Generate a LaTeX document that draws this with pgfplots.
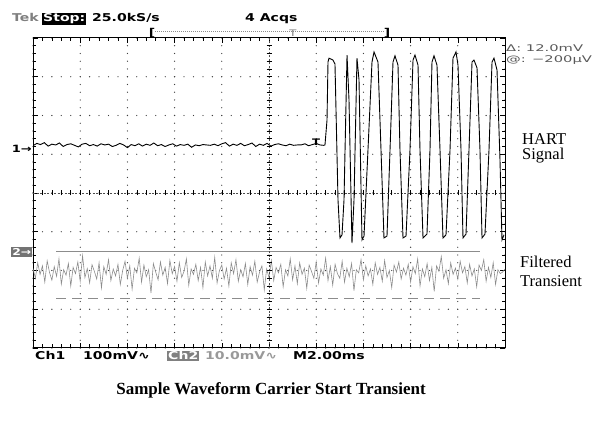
\documentclass[border=0pt]{standalone}
\usepackage{pgfplots}
\pgfplotsset{compat=1.18}
\usepackage{fontspec}
\setmainfont{Liberation Serif}
\newfontfamily\tek[FakeStretch=1.3]{DejaVu Sans}
\newfontfamily\tekwide[FakeStretch=1.6]{DejaVu Sans}
\newcommand\tekfont{\tek\bfseries\fontsize{10.8}{12}\selectfont}
\begin{document}
\begin{tikzpicture}[x=1pt,y=1pt]
\useasboundingbox (0,0) rectangle (600,423);

% scope header
\node[anchor=base west, inner sep=0, text=black!50, font=\tekfont] at (12,401) {Tek};
\node[anchor=base west, inner sep=1pt, fill=black, text=white, font=\tekfont] at (42,401) {Stop:};
\node[anchor=base west, inner sep=0, font=\tekfont] at (92,401) {25.0kS/s};
\node[anchor=base west, inner sep=0, font=\tekfont] at (245,401) {4 Acqs};
\node[anchor=base, inner sep=0, font=\tekfont] at (152,386) {[};
\node[anchor=base, inner sep=0, font=\tekfont] at (387,386) {]};
\draw[black!45, line width=0.6pt, dash pattern=on 1pt off 1pt] (155,392) -- (384,392);
\node[anchor=base, inner sep=0, text=black!50, font=\tek\fontsize{9}{10}\selectfont] at (293,386) {T};

\begin{axis}[
    at={(33pt,75pt)}, anchor=south west,
    scale only axis, width=472pt, height=310pt,
    xmin=0, xmax=10, ymin=-4, ymax=4,
    xtick distance=1, ytick distance=1,
    minor x tick num=4, minor y tick num=4,
    xticklabels={}, yticklabels={},
    tick align=inside,
    major tick length=5pt, minor tick length=3.5pt,
    tick style={black, line width=0.6pt},
    axis line style={black, line width=1pt},
    grid=major,
    major x grid style={black!75, line width=1.3pt, line cap=round, dash pattern=on 0pt off 7.75pt},
    major y grid style={black!75, line width=1.3pt, line cap=round, dash pattern=on 0pt off 9.44pt},
]

% Ch2: filtered transient
\addplot[black!45, line width=0.6pt] coordinates {
(0,-1.95)(0.05,-2.20)(0.1,-1.80)(0.15,-2.10)(0.2,-1.88)(0.25,-2.30)(0.3,-1.75)(0.35,-2.05)(0.4,-2.25)(0.45,-1.90)
(0.5,-2.15)(0.55,-1.70)(0.6,-2.35)(0.65,-1.98)(0.7,-2.12)(0.75,-1.82)(0.8,-2.40)(0.85,-1.92)(0.9,-2.08)(0.95,-1.78)
(1,-2.28)(1.05,-1.62)(1.1,-2.18)(1.15,-1.95)(1.2,-2.32)(1.25,-1.85)(1.3,-2.02)(1.35,-2.22)(1.4,-1.80)(1.45,-2.45)
(1.5,-1.90)(1.55,-2.10)(1.6,-1.72)(1.65,-2.26)(1.7,-1.96)(1.75,-2.14)(1.8,-1.84)(1.85,-2.36)(1.9,-2.00)(1.95,-1.76)
(2,-2.20)(2.05,-1.88)(2.1,-2.48)(2.15,-1.94)(2.2,-2.06)(2.25,-1.68)(2.3,-2.30)(2.35,-1.86)(2.4,-2.16)(2.45,-1.98)
(2.5,-2.58)(2.55,-1.82)(2.6,-2.04)(2.65,-2.24)(2.7,-1.78)(2.75,-2.12)(2.8,-1.92)(2.85,-2.34)(2.9,-1.74)(2.95,-2.08)
(3,-1.90)(3.05,-2.28)(3.1,-1.80)(3.15,-2.18)(3.2,-2.02)(3.25,-1.70)(3.3,-2.38)(3.35,-1.96)(3.4,-2.10)(3.45,-1.84)
(3.5,-2.26)(3.55,-1.92)(3.6,-2.44)(3.65,-1.78)(3.7,-2.14)(3.75,-1.88)(3.8,-2.20)(3.85,-1.66)(3.9,-2.32)(3.95,-2.00)
(4,-1.86)(4.05,-2.22)(4.1,-1.94)(4.15,-2.40)(4.2,-1.80)(4.25,-2.08)(4.3,-1.72)(4.35,-2.28)(4.4,-1.98)(4.45,-2.16)
(4.5,-1.82)(4.55,-2.36)(4.6,-1.90)(4.65,-2.12)(4.7,-1.76)(4.75,-2.30)(4.8,-2.04)(4.85,-1.88)(4.9,-2.50)(4.95,-1.96)
(5,-2.18)(5.05,-1.74)(5.1,-2.26)(5.15,-1.92)(5.2,-2.06)(5.25,-1.84)(5.3,-2.42)(5.35,-1.98)(5.4,-2.14)(5.45,-1.70)
(5.5,-2.24)(5.55,-1.88)(5.6,-2.34)(5.65,-1.80)(5.7,-2.10)(5.75,-1.94)(5.8,-2.46)(5.85,-1.86)(5.9,-2.02)(5.95,-2.20)
(6,-1.78)(6.05,-2.32)(6.1,-1.96)(6.15,-2.12)(6.2,-1.68)(6.25,-2.26)(6.3,-1.90)(6.35,-2.38)(6.4,-1.84)(6.45,-2.08)
(6.5,-2.20)(6.55,-1.76)(6.6,-2.30)(6.65,-1.94)(6.7,-2.16)(6.75,-1.82)(6.8,-2.52)(6.85,-1.98)(6.9,-2.06)(6.95,-1.72)
(7,-2.24)(7.05,-1.88)(7.1,-2.14)(7.15,-1.96)(7.2,-2.36)(7.25,-1.80)(7.3,-2.10)(7.35,-1.92)(7.4,-2.28)(7.45,-1.74)
(7.5,-2.18)(7.55,-2.00)(7.6,-2.44)(7.65,-1.86)(7.7,-2.04)(7.75,-1.78)(7.8,-2.22)(7.85,-1.94)(7.9,-2.12)(7.95,-1.84)
(8,-2.30)(8.05,-1.90)(8.1,-2.08)(8.15,-1.70)(8.2,-2.40)(8.25,-1.96)(8.3,-2.16)(8.35,-1.82)(8.4,-2.26)(8.45,-1.92)
(8.5,-2.54)(8.55,-1.88)(8.6,-2.02)(8.65,-1.64)(8.7,-2.20)(8.75,-1.98)(8.8,-2.34)(8.85,-1.80)(8.9,-2.10)(8.95,-1.94)
(9,-2.22)(9.05,-1.76)(9.1,-2.06)(9.15,-1.90)(9.2,-2.32)(9.25,-1.84)(9.3,-2.14)(9.35,-1.96)(9.4,-2.42)(9.45,-1.86)
(9.5,-2.00)(9.55,-1.72)(9.6,-2.28)(9.65,-1.92)(9.7,-2.18)(9.75,-1.80)(9.8,-2.36)(9.85,-1.98)(9.9,-2.08)(9.95,-2.04)(10,-1.96)
};

% Ch2 reference levels
\addplot[black!45, line width=0.8pt] coordinates {(0.49,-1.52)(9.47,-1.52)};
\addplot[black!45, line width=0.8pt, dash pattern=on 10pt off 6pt] coordinates {(0.49,-2.71)(9.47,-2.71)};

% Ch1: HART signal
\addplot[black, line width=0.9pt] coordinates {
(0,1.22)(0.08,1.28)(0.16,1.25)(0.24,1.30)(0.32,1.21)(0.40,1.26)(0.48,1.24)(0.56,1.29)(0.64,1.20)(0.72,1.25)
(0.80,1.27)(0.88,1.23)(0.96,1.19)(1.04,1.26)(1.12,1.28)(1.20,1.22)(1.28,1.25)(1.36,1.21)(1.44,1.27)(1.52,1.24)
(1.60,1.26)(1.68,1.20)(1.76,1.23)(1.84,1.28)(1.92,1.24)(2.00,1.17)(2.08,1.25)(2.16,1.22)(2.24,1.27)(2.32,1.21)
(2.40,1.26)(2.48,1.23)(2.56,1.29)(2.64,1.22)(2.72,1.25)(2.80,1.20)(2.88,1.24)(2.96,1.27)(3.04,1.21)(3.12,1.25)
(3.20,1.23)(3.28,1.26)(3.36,1.18)(3.44,1.24)(3.52,1.22)(3.60,1.25)(3.68,1.24)(3.76,1.23)(3.84,1.26)(3.92,1.22)
(4.00,1.27)(4.08,1.30)(4.16,1.21)(4.24,1.26)(4.32,1.23)(4.40,1.28)(4.48,1.22)(4.56,1.25)(4.64,1.29)(4.72,1.20)
(4.80,1.26)(4.88,1.23)(4.96,1.28)(5.04,1.21)(5.12,1.25)(5.20,1.27)(5.28,1.24)(5.36,1.22)(5.44,1.26)(5.52,1.23)
(5.60,1.24)(5.68,1.24)(5.76,1.27)(5.84,1.22)(5.92,1.25)(6.00,1.28)(6.08,1.24)(6.16,1.23)
(6.186,1.24)(6.229,1.88)(6.250,3.38)(6.271,3.48)(6.356,3.43)(6.398,3.33)(6.462,-0.18)(6.504,-1.16)(6.547,-1.08)
(6.589,-0.18)(6.653,3.56)(6.695,2.40)(6.758,-1.29)
(6.801,-0.18)(6.864,3.48)(6.907,2.92)(6.970,-1.21)
(7.013,-1.11)(7.097,1.11)(7.182,3.38)(7.225,3.64)(7.309,3.38)(7.373,1.11)(7.436,-1.16)
(7.500,-1.11)(7.564,1.11)(7.627,3.38)(7.669,3.54)(7.733,3.30)(7.775,1.11)(7.839,-1.16)
(7.903,-1.11)(7.987,1.11)(8.051,3.43)(8.093,3.56)(8.157,3.30)(8.199,1.11)(8.263,-1.16)
(8.347,-1.06)(8.411,1.11)(8.453,3.38)(8.496,3.54)(8.559,3.30)(8.623,1.11)(8.686,-1.16)
(8.750,-1.08)(8.835,1.11)(8.898,3.48)(8.962,3.64)(9.004,3.30)(9.068,1.11)(9.110,-1.16)
(9.174,-1.06)(9.237,1.11)(9.301,3.38)(9.343,3.43)(9.407,3.23)(9.470,1.11)(9.513,-1.16)
(9.576,-1.06)(9.661,1.11)(9.725,3.38)(9.767,3.48)(9.831,3.17)(9.894,0.85)(9.936,-1.21)(9.979,-1.08)
};
\node[anchor=south, inner sep=0, font=\tek\bfseries\fontsize{9}{10}\selectfont] at (axis cs:6.0,1.22) {T};
\end{axis}

% centre crosshair of the graticule
\draw[black!70, line width=0.5pt, dash pattern=on 2pt off 1.5pt] (33,230) -- (505,230);
\draw[black!70, line width=0.5pt, dash pattern=on 2pt off 1.5pt] (269,75) -- (269,385);
\foreach \i in {1,...,49} \draw[black, line width=0.6pt] ({33+9.44*\i},227.5) -- ({33+9.44*\i},232.5);
\foreach \j in {1,...,39} \draw[black, line width=0.6pt] (266.5,{75+7.75*\j}) -- (271.5,{75+7.75*\j});

% channel markers
\node[anchor=east, inner sep=0.5pt, font=\tek\bfseries\fontsize{10}{11}\selectfont] at (32.5,274) {1→};
\node[anchor=east, inner sep=1pt, fill=black!55, text=white, font=\tek\bfseries\fontsize{9.5}{10}\selectfont] at (32.5,171) {2→};

% cursor readout
\node[anchor=base west, inner sep=0, text=black!65, font=\tekwide\fontsize{9.2}{10}\selectfont] at (506,371) {Δ: 12.0mV};
\node[anchor=base west, inner sep=0, text=black!65, font=\tekwide\fontsize{9.2}{10}\selectfont] at (506,360) {@: −200μV};

% bottom status line
\node[anchor=base west, inner sep=0, font=\tekfont] at (35,63) {Ch1};
\node[anchor=base west, inner sep=0, font=\tekfont] at (83,63) {100mV∿};
\node[anchor=base west, inner sep=1pt, fill=black!50, text=white, font=\tekfont] at (167,63) {Ch2};
\node[anchor=base west, inner sep=0, text=black!40, font=\tekfont] at (205,63) {10.0mV∿};
\node[anchor=base west, inner sep=0, font=\tekfont] at (293,63) {M2.00ms};

% side labels and caption
\node[anchor=base west, inner sep=0, font=\fontsize{16.5}{18}\selectfont] at (522,278) {HART};
\node[anchor=base west, inner sep=0, font=\fontsize{16.5}{18}\selectfont] at (522,263) {Signal};
\node[anchor=base west, inner sep=0, font=\fontsize{16.5}{18}\selectfont] at (520,155) {Filtered};
\node[anchor=base west, inner sep=0, font=\fontsize{16.5}{18}\selectfont] at (520,136) {Transient};
\node[anchor=base, inner sep=0, font=\bfseries\fontsize{17}{20}\selectfont] at (271,28) {Sample Waveform Carrier Start Transient};
\end{tikzpicture}
\end{document}
